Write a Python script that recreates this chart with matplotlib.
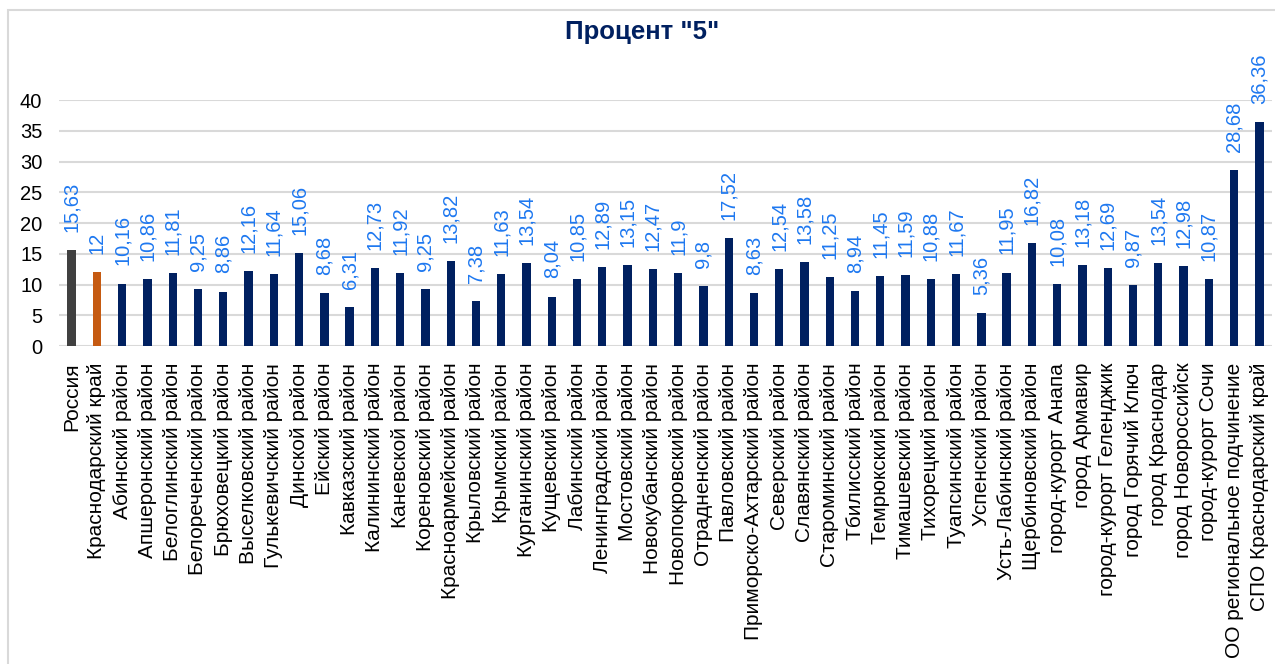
import matplotlib
matplotlib.use("Agg")
import matplotlib.pyplot as plt
from matplotlib.patches import Rectangle

plt.rcParams['font.family'] = ['Liberation Sans', 'DejaVu Sans']

categories = [
    "Россия", "Краснодарский край", "Абинский район", "Апшеронский район",
    "Белоглинский район", "Белореченский район", "Брюховецкий район",
    "Выселковский район", "Гулькевичский район", "Динской район",
    "Ейский район", "Кавказский район", "Калининский район", "Каневской район",
    "Кореновский район", "Красноармейский район", "Крыловский район",
    "Крымский район", "Курганинский район", "Кущевский район",
    "Лабинский район", "Ленинградский район", "Мостовский район",
    "Новокубанский район", "Новопокровский район", "Отрадненский район",
    "Павловский район", "Приморско-Ахтарский район", "Северский район",
    "Славянский район", "Староминский район", "Тбилисский район",
    "Темрюкский район", "Тимашевский район", "Тихорецкий район",
    "Туапсинский район", "Успенский район", "Усть-Лабинский район",
    "Щербиновский район", "город-курорт Анапа", "город Армавир",
    "город-курорт Геленджик", "город Горячий Ключ", "город Краснодар",
    "город Новороссийск", "город-курорт Сочи", "ОО региональное подчинение",
    "СПО Краснодарский край",
]
values = [
    15.63, 12, 10.16, 10.86, 11.81, 9.25, 8.86, 12.16, 11.64, 15.06,
    8.68, 6.31, 12.73, 11.92, 9.25, 13.82, 7.38, 11.63, 13.54, 8.04,
    10.85, 12.89, 13.15, 12.47, 11.9, 9.8, 17.52, 8.63, 12.54, 13.58,
    11.25, 8.94, 11.45, 11.59, 10.88, 11.67, 5.36, 11.95, 16.82, 10.08,
    13.18, 12.69, 9.87, 13.54, 12.98, 10.87, 28.68, 36.36,
]
title = 'Процент "5"'
yticks = [0, 5, 10, 15, 20, 25, 30, 35, 40]

NAVY = "#002060"
colors = ["#404040", "#C55A11"] + [NAVY] * (len(values) - 2)

fig = plt.figure(figsize=(12.75, 6.64), dpi=100)
# outer chart border
fig.patches.append(Rectangle((8 / 1275, -0.2), 1.2, 1.2 - 10 / 664,
                             transform=fig.transFigure, fill=False,
                             edgecolor="#D9D9D9", linewidth=1.5))

ax = fig.add_axes([59 / 1275, 1 - 346 / 664, (1272 - 59) / 1275, (346 - 100) / 664])
x = list(range(len(values)))
ax.bar(x, values, width=0.33, color=colors, zorder=3)

ax.set_xlim(-0.5, len(values) - 0.5)
ax.set_ylim(0, 40)
ax.set_yticks(yticks)
ax.set_yticklabels([str(t) for t in yticks], fontsize=14.5)
ax.set_xticks(x)
ax.set_xticklabels(categories, rotation=90, fontsize=15)
ax.tick_params(axis='both', length=0)
ax.tick_params(axis='x', pad=12)
ax.tick_params(axis='y', pad=12)
ax.grid(axis='y', color="#D9D9D9", linewidth=1.5, zorder=0)
for s in ax.spines.values():
    s.set_visible(False)

for xi, v in zip(x, values):
    lbl = f"{v:g}".replace(".", ",")
    ax.annotate(lbl, (xi, v), xytext=(0, 13), textcoords="offset points",
                rotation=90, ha="center", va="bottom", fontsize=14.5,
                color="#1E78F0", annotation_clip=False)

fig.text(642 / 1275, 1 - 32 / 664, title, ha="center", va="center",
         fontsize=18.5, fontweight="bold", color=NAVY)

fig.savefig("out.png", dpi=100)
